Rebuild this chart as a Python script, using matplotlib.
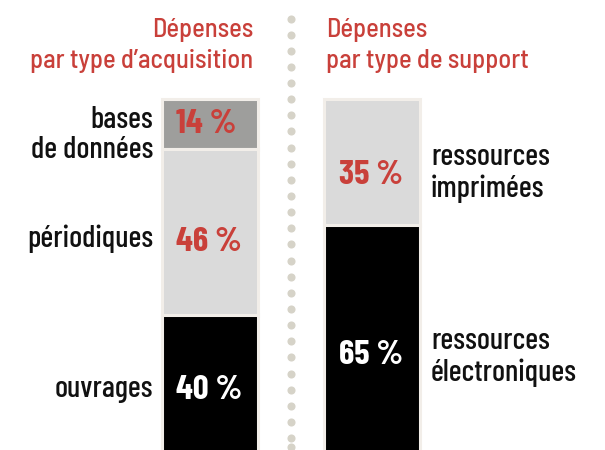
import matplotlib
matplotlib.use("Agg")
import matplotlib.pyplot as plt
import numpy as np

# data
acq_labels = ["bases\nde données", "périodiques", "ouvrages"]
acq_values = [14, 46, 40]
acq_colors = ["#9e9e9c", "#dadada", "#000000"]
acq_pct_colors = ["#c9403a", "#c9403a", "#ffffff"]

sup_labels = ["ressources\nimprimées", "ressources\nélectroniques"]
sup_values = [35, 65]
sup_colors = ["#dadada", "#000000"]
sup_pct_colors = ["#c9403a", "#ffffff"]

title_acq = "Dépenses\npar type d’acquisition"
title_sup = "Dépenses\npar type de support"

bg = "#f2eee9"
red = "#c9403a"
font_title = "Barlow Semi Condensed"
font_lab = "Barlow Condensed"

W, H = 605, 450
y0, s = 98.6, 3.6          # pixel of 0 %, pixels per %

fig = plt.figure(figsize=(W / 100, H / 100), dpi=100, facecolor="white")
ax = fig.add_axes([0, 0, 596 / W, 1])
ax.set_facecolor(bg)
ax.set_xlim(0, 596)
ax.set_ylim((H - y0) / s, -y0 / s)
ax.axis("off")
ax.patch.set_visible(True)


def py(p):
    # pixel row -> data units
    return (p - y0) / s


def lines(x, y, text, step, **kw):
    # one text per line, y = first baseline (data units), step in pixels
    for i, line in enumerate(text.split("\n")):
        ax.text(x, y + i * step / s, line, va="baseline", **kw)


def stack(xc, values, colors, pct_colors, labels, pct_off, lab_off, lab_x, ha, step):
    bottoms = np.concatenate([[0], np.cumsum(values)[:-1]])
    ax.bar([xc] * len(values), values, bottom=bottoms, width=96, color=colors,
           edgecolor=bg, linewidth=2.2)
    for v, b, c, lab, po, lo in zip(values, bottoms, pct_colors, labels, pct_off, lab_off):
        mid = b + v / 2
        ax.text(xc - 48 + 15, mid + po / s, f"{v} %", color=c, fontsize=25,
                fontweight="bold", family=font_lab, ha="left", va="baseline")
        lines(lab_x, mid + lo / s, lab, step, color="#111111", fontsize=22,
              fontweight="medium", family=font_lab, ha=ha)


stack(209.5, acq_values, acq_colors, acq_pct_colors, acq_labels,
      pct_off=[9, 19, 12], lab_off=[4, 15, 10], lab_x=153, ha="right", step=30)
stack(372, sup_values, sup_colors, sup_pct_colors, sup_labels,
      pct_off=[22, 22], lab_off=[3, 7], lab_x=431, ha="left", step=32.5)

lines(253, py(37), title_acq, 31, color=red, fontsize=19, fontweight="medium",
      family=font_title, ha="right")
lines(326, py(37), title_sup, 31, color=red, fontsize=19, fontweight="medium",
      family=font_title, ha="left")

# dotted separator
dots_y = np.append(np.arange(18.5, 440, 16.14), 447)
ax.scatter(np.full(len(dots_y), 291), py(dots_y), s=34, color="#d6d3c8",
           linewidths=0, zorder=3)

fig.savefig("out.png", dpi=100, facecolor="white")
